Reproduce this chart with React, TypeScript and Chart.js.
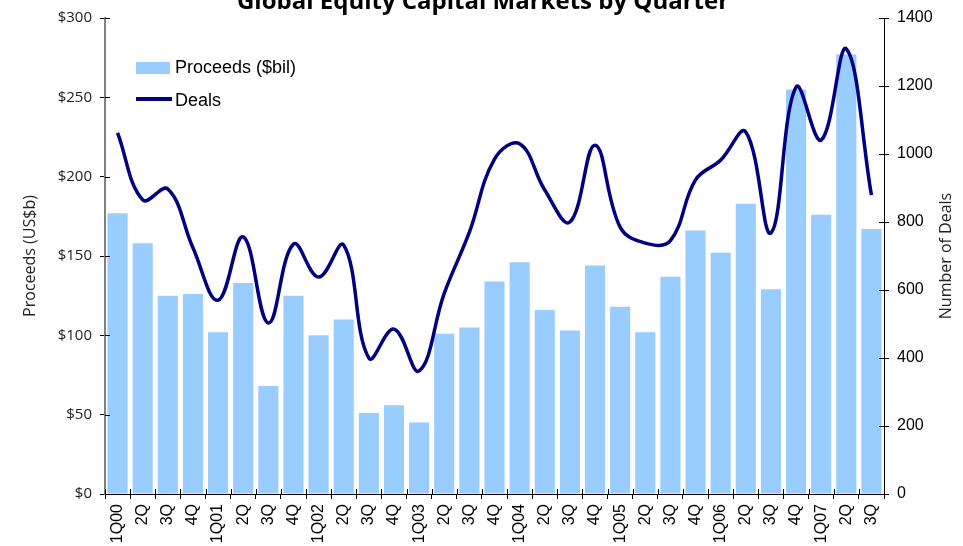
import React, { useEffect, useRef } from "react";
import { Chart, registerables } from "chart.js";

Chart.register(...registerables);

const categories = [
  "1Q00", "2Q", "3Q", "4Q",
  "1Q01", "2Q", "3Q", "4Q",
  "1Q02", "2Q", "3Q", "4Q",
  "1Q03", "2Q", "3Q", "4Q",
  "1Q04", "2Q", "3Q", "4Q",
  "1Q05", "2Q", "3Q", "4Q",
  "1Q06", "2Q", "3Q", "4Q",
  "1Q07", "2Q", "3Q",
];

const proceeds = [
  177, 158, 125, 126,
  102, 133, 68, 125,
  100, 110, 51, 56,
  45, 101, 105, 134,
  146, 116, 103, 144,
  118, 102, 137, 166,
  152, 183, 129, 255,
  176, 277, 167,
];

const deals = [
  1062, 865, 897, 724,
  570, 756, 503, 735,
  638, 732, 400, 485,
  362, 590, 770, 985,
  1030, 894, 800, 1026,
  785, 738, 745, 924,
  982, 1065, 768, 1197,
  1041, 1309, 879,
];

const leftTicks = [0, 50, 100, 150, 200, 250, 300];
const rightTicks = [0, 200, 400, 600, 800, 1000, 1200, 1400];

const TITLE = "Global Equity Capital Markets by Quarter";
const LEFT_TITLE = "Proceeds (US$b)";
const RIGHT_TITLE = "Number of Deals";
const BAR_LABEL = "Proceeds ($bil)";
const LINE_LABEL = "Deals";

const BAR_COLOR = "#99CCFF";
const LINE_COLOR = "#000080";

const decorPlugin = {
  id: "decor",
  afterDraw(chart: any) {
    const ctx = chart.ctx;
    const area = chart.chartArea;
    const xs = chart.scales.x;
    const yl = chart.scales.y;
    const yr = chart.scales.y1;
    ctx.save();

    // inner tick marks
    ctx.strokeStyle = "#000";
    ctx.lineWidth = 1;
    ctx.beginPath();
    leftTicks.forEach((v) => {
      const y = Math.round(yl.getPixelForValue(v)) + 0.5;
      ctx.moveTo(area.left, y);
      ctx.lineTo(area.left + 5, y);
    });
    rightTicks.forEach((v) => {
      const y = Math.round(yr.getPixelForValue(v)) + 0.5;
      ctx.moveTo(area.right, y);
      ctx.lineTo(area.right - 5, y);
    });
    const n = categories.length;
    for (let i = 0; i <= n; i++) {
      const x = Math.round(xs.left + (i * xs.width) / n) + 0.5;
      ctx.moveTo(x, area.bottom);
      ctx.lineTo(x, area.bottom - 5);
    }
    ctx.stroke();

    // title
    ctx.fillStyle = "#000";
    ctx.font = "bold 24px 'Open Sans'";
    ctx.textAlign = "center";
    ctx.textBaseline = "alphabetic";
    ctx.fillText(TITLE, 483, 9);

    // right axis title (reading upwards)
    ctx.save();
    ctx.translate(946, (area.top + area.bottom) / 2);
    ctx.rotate(-Math.PI / 2);
    ctx.font = "16px 'Open Sans'";
    ctx.fillStyle = "#222";
    ctx.textAlign = "center";
    ctx.textBaseline = "middle";
    ctx.fillText(RIGHT_TITLE, 0, 0);
    ctx.restore();

    // legend
    const lx = area.left + 31;
    ctx.fillStyle = BAR_COLOR;
    ctx.fillRect(lx, area.top + 44, 34, 12);
    ctx.strokeStyle = LINE_COLOR;
    ctx.lineWidth = 4;
    ctx.beginPath();
    ctx.moveTo(lx, area.top + 81);
    ctx.lineTo(lx + 36, area.top + 81);
    ctx.stroke();
    ctx.fillStyle = "#000";
    ctx.font = "18px 'Liberation Sans', Arial";
    ctx.textAlign = "left";
    ctx.textBaseline = "middle";
    ctx.fillText(BAR_LABEL, lx + 39, area.top + 50);
    ctx.fillText(LINE_LABEL, lx + 39, area.top + 83);

    ctx.restore();
  },
};

export default function App() {
  const ref = useRef<HTMLCanvasElement | null>(null);

  useEffect(() => {
    if (!ref.current) return;
    const chart = new Chart(ref.current, {
      type: "bar",
      data: {
        labels: categories,
        datasets: [
          {
            type: "line",
            label: LINE_LABEL,
            data: deals,
            yAxisID: "y1",
            borderColor: LINE_COLOR,
            backgroundColor: LINE_COLOR,
            borderWidth: 3.5,
            pointRadius: 0,
            tension: 0.4,
            order: 0,
          } as any,
          {
            type: "bar",
            label: BAR_LABEL,
            data: proceeds,
            yAxisID: "y",
            backgroundColor: BAR_COLOR,
            borderWidth: 0,
            barPercentage: 0.8,
            categoryPercentage: 1.0,
            order: 1,
          },
        ],
      },
      options: {
        responsive: false,
        animation: false,
        layout: { padding: { top: 18, left: 0, right: 0, bottom: 0 } },
        plugins: {
          legend: { display: false },
          title: { display: false },
          tooltip: { enabled: false },
        },
        scales: {
          x: {
            offset: true,
            grid: {
              offset: true,
              drawOnChartArea: false,
              color: "#000",
              tickLength: 5,
            },
            border: { color: "#000", width: 1 },
            ticks: {
              autoSkip: false,
              minRotation: 90,
              maxRotation: 90,
              padding: 5,
              color: "#000",
              font: { family: "'Liberation Sans', Arial", size: 16 },
            },
            afterFit: (s: any) => {
              s.height = 52;
            },
          },
          y: {
            position: "left",
            min: 0,
            max: 300,
            grid: { drawOnChartArea: false, color: "#000", tickLength: 5 },
            border: { color: "#808080", width: 2 },
            ticks: {
              stepSize: 50,
              padding: 8,
              color: "#222",
              font: { family: "'Open Sans'", size: 15 },
              callback: (v: any) => "$" + v,
            },
            title: {
              display: true,
              text: LEFT_TITLE,
              color: "#222",
              font: { family: "'Open Sans'", size: 16 },
              padding: { top: 21, bottom: 0 },
            },
            afterFit: (s: any) => {
              s.width = 105;
            },
          },
          y1: {
            position: "right",
            min: 0,
            max: 1400,
            grid: { drawOnChartArea: false, color: "#000", tickLength: 5 },
            border: { color: "#000", width: 1 },
            ticks: {
              stepSize: 200,
              padding: 8,
              color: "#000",
              font: { family: "'Liberation Sans', Arial", size: 16 },
              callback: (v: any) => String(v),
            },
            afterFit: (s: any) => {
              s.width = 79;
            },
          },
        },
      },
      plugins: [decorPlugin],
    });
    return () => chart.destroy();
  }, []);

  return (
    <div style={{ position: "absolute", left: 0, top: 0, width: 963, height: 546, overflow: "hidden", background: "#fff" }}>
      <canvas ref={ref} width={963} height={546} style={{ display: "block" }} />
    </div>
  );
}
